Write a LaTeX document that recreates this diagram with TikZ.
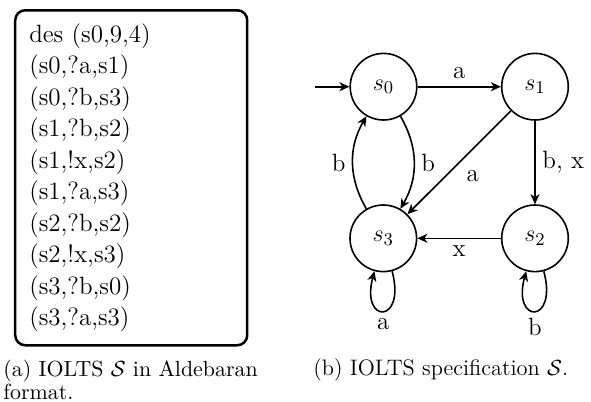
\documentclass[tikz,border=0pt]{standalone}
\usetikzlibrary{arrows.meta}
\begin{document}
\begin{tikzpicture}[x=0.5pt,y=0.5pt,
  state/.style={circle,draw,line width=0.8pt,minimum size=33.3pt,inner sep=0pt,font=\fontsize{12.5}{14}\selectfont},
  edge/.style={line width=0.8pt,-{Stealth[length=5pt,width=4.5pt,inset=1.5pt]}},
  lbl/.style={font=\fontsize{12.5}{14}\selectfont},
  listbox/.style={draw,line width=1.25pt,rounded corners=5pt,anchor=north west,
    minimum width=116pt,minimum height=167.5pt,inner xsep=7pt,inner ysep=6.5pt,
    text width=102pt,align=left,font=\fontsize{12.5}{15.75}\selectfont}]
\useasboundingbox (0,0) rectangle (591,-402);
% left part: Aldebaran listing
\node[listbox] (box) at (14,-9) {des (s0,9,4)\\(s0,?a,s1)\\(s0,?b,s3)\\(s1,?b,s2)\\(s1,!x,s2)\\(s1,?a,s3)\\(s2,?b,s2)\\(s2,!x,s3)\\(s3,?b,s0)\\(s3,?a,s3)};
\node[anchor=north west,inner sep=0pt,align=left,font=\fontsize{10.95}{9.9}\selectfont] (capa) at (3,-360) {(a) IOLTS $\mathcal{S}$ in Aldebaran\\format.};
% right part: IOLTS graph
\node[state] (s0) at (383.5,-86.7) {$s_0$};
\node[state] (s1) at (535,-86.7) {$s_1$};
\node[state] (s3) at (383.3,-238.3) {$s_3$};
\node[state] (s2) at (535,-238.3) {$s_2$};
\coordinate (init) at (315,-86.7);
\draw[edge] (init) -- (s0);
\draw[edge] (s0) -- node[lbl,auto] {a} (s1);
\draw[edge] (s1) -- node[lbl,auto] {b, x} (s2);
\draw[edge] (s1) -- node[lbl,auto] {a} (s3);
\draw[edge] (s2) -- node[lbl,auto] {x} (s3);
\draw[edge] (s0) to[bend left] node[lbl,auto] {b} (s3);
\draw[edge] (s3) to[bend left] node[lbl,auto] {b} (s0);
\draw[edge] (s3) to[loop below] node[lbl,below] {a} (s3);
\draw[edge] (s2) to[loop below] node[lbl,below] {b} (s2);
\node[anchor=base west,inner sep=0pt,font=\fontsize{11.2}{13}\selectfont] (capb) at (313,-375.7) {(b) IOLTS specification $\mathcal{S}$.};
\end{tikzpicture}
\end{document}
